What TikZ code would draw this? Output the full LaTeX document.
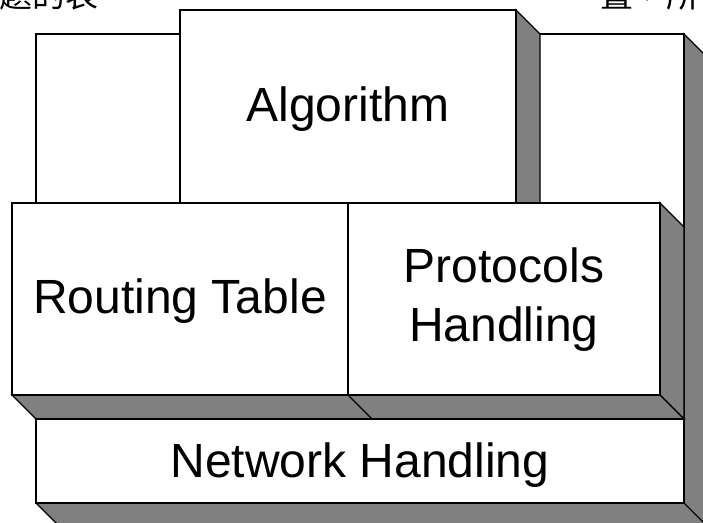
\documentclass[tikz,border=0pt]{standalone}
\usepackage{fontspec}
\setmainfont{Liberation Sans}
\newfontfamily\cjkfont{Noto Sans CJK TC}
\definecolor{sidegray}{RGB}{128,128,128}
\begin{document}
\begin{tikzpicture}[x=1pt,y=-1pt,line width=1.1pt,line join=miter,
  face/.style={draw=black,fill=white},
  side/.style={draw=black,fill=sidegray},
  sidefill/.style={fill=sidegray},
  edge/.style={draw=black},
  lbl/.style={font=\fontsize{48}{59}\selectfont,inner sep=0pt,anchor=base,align=center},
  cjk/.style={font=\cjkfont\fontsize{33}{33}\selectfont,inner sep=0pt,anchor=base west}]
\useasboundingbox (0,0) rectangle (703,522);
\clip (0,0) rectangle (703,522);
\fill[white] (0,0) rectangle (703,522);
% clipped text above the figure
\node[cjk] (cl) at (-1,8) {題的表};
\node[cjk] (cr) at (600,8) {置，所};
% back box
\path[side] (684,34) -- (708,58) -- (708,527) -- (684,503) -- cycle;
\path[face] (36,34) rectangle (684,503);
% Algorithm box
\path[side] (516,10) -- (540,34) -- (540,203) -- (516,203) -- cycle;
\path[face] (180,10) rectangle (516,203);
% Routing Table / Protocols Handling box
\path[side] (660,203) -- (684,227) -- (684,419) -- (660,395) -- cycle;
\path[side] (12,395) -- (36,419) -- (684,419) -- (660,395) -- cycle;
\path[edge] (348,395) -- (372,419);
\path[face] (12,203) rectangle (660,395);
\path[edge] (348,203) -- (348,395);
% Network Handling box
\path[sidefill] (36,503) -- (60,527) -- (708,527) -- (708,443) -- (684,419) -- (684,503) -- cycle;
\path[edge] (36,503) -- (60,527);
\path[edge] (684,503) -- (708,527);
\path[face] (36,419) rectangle (684,503);
% labels
\node[lbl] (alg) at (348,121) {Algorithm};
\node[lbl] (rt) at (180,313) {Routing Table};
\node[lbl,anchor=center] (ph) at (504,300) {Protocols\\Handling};
\node[lbl] (nh) at (360,477) {Network Handling};
\end{tikzpicture}
\end{document}
